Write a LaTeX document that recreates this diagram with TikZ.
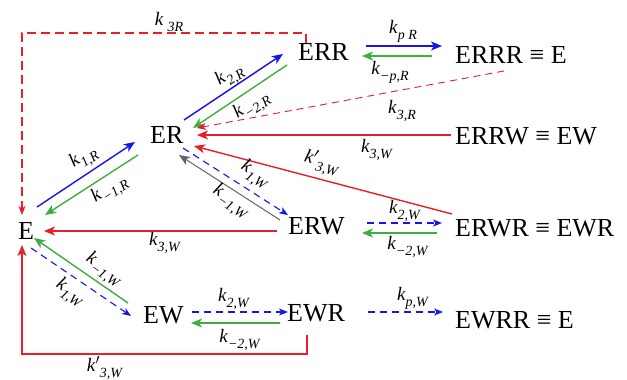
\documentclass[tikz,border=0pt]{standalone}
\usepackage{fontspec}
\setmainfont{Liberation Serif}
\usetikzlibrary{arrows.meta}
\definecolor{cblue}{RGB}{20,20,235}
\definecolor{cgreen}{RGB}{60,175,60}
\definecolor{cred}{RGB}{232,30,40}
\definecolor{cgray}{RGB}{100,100,100}
\newcommand{\kl}[2][]{\textit{k}#1\raisebox{-0.32em}{\fontsize{14}{15}\selectfont\textit{#2}}}
\begin{document}
\begin{tikzpicture}[x=1pt,y=-1pt,
  state/.style={anchor=west,inner sep=0pt,font=\fontsize{26}{30}\selectfont},
  lab/.style={inner sep=0pt,font=\fontsize{19}{21}\selectfont},
  arr/.style={line width=1.4pt,-{Stealth[length=11pt,width=9pt,inset=3pt]}},
  darr/.style={line width=1.1pt,dash pattern=on 7pt off 5pt,-{Stealth[length=9pt,width=7pt,inset=2.5pt]}}]
\useasboundingbox (0,0) rectangle (627,380);
% states
\node[state] (E) at (18,230.5) {E};
\node[state] (ER) at (150,134.5) {ER};
\node[state] (ERR) at (298,52) {ERR};
\node[state] (ERRR) at (455,55) {ERRR ≡ E};
\node[state] (ERRW) at (455,136) {ERRW ≡ EW};
\node[state] (ERW) at (288,226) {ERW};
\node[state] (ERWR) at (455,228) {ERWR ≡ EWR};
\node[state] (EW) at (143,315) {EW};
\node[state] (EWR) at (287,313) {EWR};
\node[state] (EWRR) at (455,320) {EWRR ≡ E};
% connector end points
\coordinate (a1) at (306,43); \coordinate (a1m) at (306,33); \coordinate (a1n) at (22,33); \coordinate (a1e) at (22,215);
\coordinate (a2) at (37,207);  \coordinate (a2e) at (135,142);
\coordinate (a3) at (138,155); \coordinate (a3e) at (45,215);
\coordinate (a4) at (184,120); \coordinate (a4e) at (283,54);
\coordinate (a5) at (287,65);  \coordinate (a5e) at (193,128);
\coordinate (a6) at (366,46);  \coordinate (a6e) at (442,46);
\coordinate (a7) at (432,56);  \coordinate (a7e) at (362,56);
\coordinate (a8) at (504,71);  \coordinate (a8e) at (197,128);
\coordinate (a9) at (451,135); \coordinate (a9e) at (197,135);
\coordinate (a10) at (452,214); \coordinate (a10e) at (194,146);
\coordinate (a11) at (183,148); \coordinate (a11e) at (288,215);
\coordinate (a12) at (280,220); \coordinate (a12e) at (179,155);
\coordinate (a13) at (277,231); \coordinate (a13e) at (44,231);
\coordinate (a14) at (367,223); \coordinate (a14e) at (442,223);
\coordinate (a15) at (437,233); \coordinate (a15e) at (362,233);
\coordinate (a16) at (31,248);  \coordinate (a16e) at (131,316);
\coordinate (a17) at (128,303); \coordinate (a17e) at (34,238);
\coordinate (a18) at (192,312); \coordinate (a18e) at (288,312);
\coordinate (a19) at (280,323); \coordinate (a19e) at (191,323);
\coordinate (a20) at (368,312); \coordinate (a20e) at (443,312);
\coordinate (a21) at (307,335); \coordinate (a21m) at (307,354); \coordinate (a21n) at (22,354); \coordinate (a21e) at (22,245);
% connectors
\draw[darr,cred,dash pattern=on 9pt off 5pt] (a1) -- (a1m) -- (a1n) -- (a1e);
\draw[arr,cblue] (a2) -- (a2e);
\draw[arr,cgreen] (a3) -- (a3e);
\draw[arr,cblue] (a4) -- (a4e);
\draw[arr,cgreen] (a5) -- (a5e);
\draw[arr,cblue] (a6) -- (a6e);
\draw[arr,cgreen] (a7) -- (a7e);
\draw[darr,cred,line width=0.9pt] (a8) -- (a8e);
\draw[arr,cred] (a9) -- (a9e);
\draw[arr,cred] (a10) -- (a10e);
\draw[darr,cblue] (a11) -- (a11e);
\draw[arr,cgray,line width=1pt] (a12) -- (a12e);
\draw[arr,cred] (a13) -- (a13e);
\draw[darr,cblue] (a14) -- (a14e);
\draw[arr,cgreen] (a15) -- (a15e);
\draw[darr,cblue] (a16) -- (a16e);
\draw[arr,cgreen] (a17) -- (a17e);
\draw[darr,cblue] (a18) -- (a18e);
\draw[arr,cgreen] (a19) -- (a19e);
\draw[darr,cblue] (a20) -- (a20e);
\draw[arr,cred] (a21) -- (a21m) -- (a21n) -- (a21e);
% labels
\node[lab] (l1) at (169,22) {\kl{\hspace{4pt}3R}};
\node[lab,rotate=33.5] (l2) at (84,158) {\kl{1,R}};
\node[lab,rotate=33] (l3) at (110,190) {\kl{−1,R}};
\node[lab,rotate=33] (l4) at (230,76) {\kl{2,R}};
\node[lab,rotate=33] (l5) at (252,106) {\kl{−2,R}};
\node[lab] (l6) at (403,31) {\kl{p R}};
\node[lab] (l7) at (390,72) {\kl{−p,R}};
\node[lab] (l8) at (402,111) {\kl{3,R}};
\node[lab] (l9) at (377,150) {\kl{3,W}};
\node[lab,rotate=-15] (l10) at (322,163) {\kl[$'$]{3,W}};
\node[lab,rotate=-33] (l11) at (255,175) {\kl{1,W}};
\node[lab,rotate=-33] (l12) at (231,202) {\kl{−1,W}};
\node[lab] (l13) at (165,243) {\kl{3,W}};
\node[lab] (l14) at (405,211) {\kl{2,W}};
\node[lab] (l15) at (408,247) {\kl{−2,W}};
\node[lab,rotate=-34] (l16) at (70,293) {\kl{1,W}};
\node[lab,rotate=-34] (l17) at (104,270) {\kl{−1,W}};
\node[lab] (l18) at (234,299) {\kl{2,W}};
\node[lab] (l19) at (240,340) {\kl{−2,W}};
\node[lab] (l20) at (413,298) {\kl{p,W}};
\node[lab] (l21) at (105,368) {\kl[$'$]{3,W}};
\end{tikzpicture}
\end{document}
